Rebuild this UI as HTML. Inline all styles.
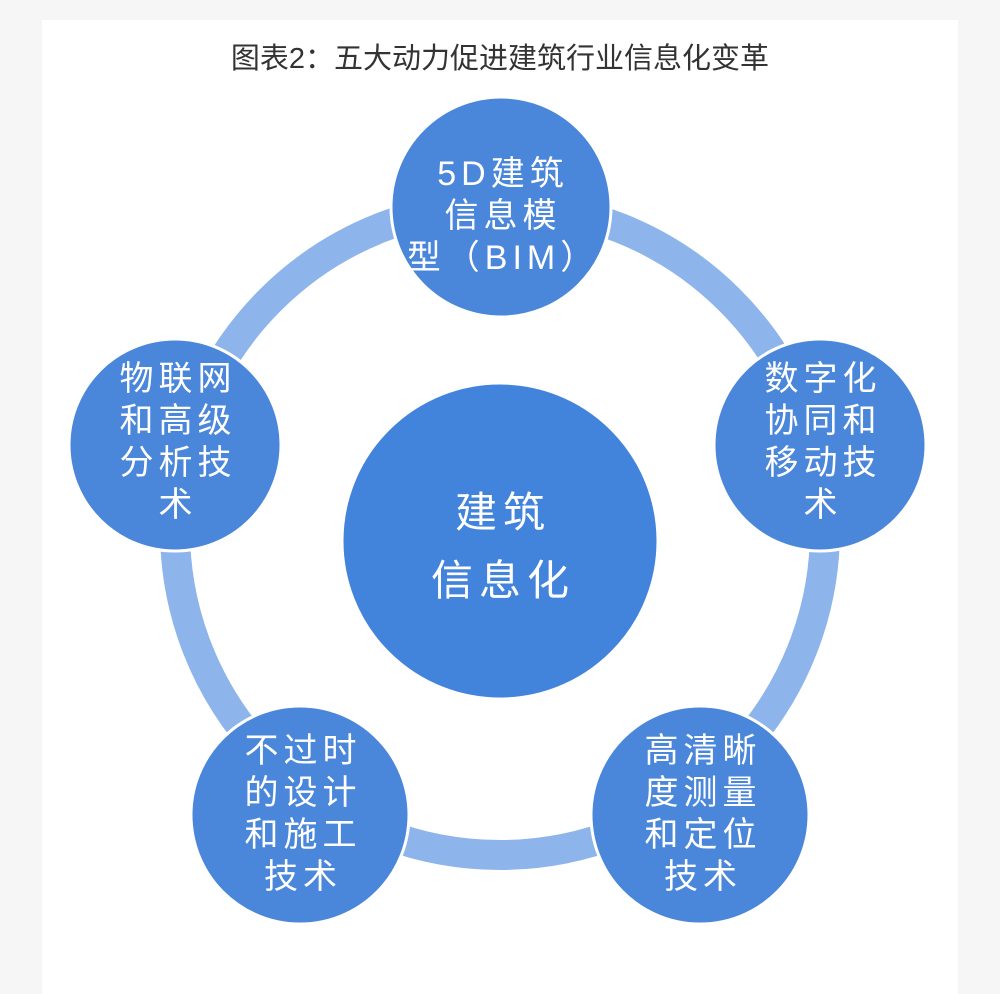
<!DOCTYPE html>
<html><head><meta charset="utf-8"><style>
html,body{margin:0;padding:0;background:#f6f6f6;}
svg{display:block}
text{font-family:"Liberation Sans","Noto Sans CJK SC",sans-serif;}
</style></head><body>
<svg width="1000" height="994" viewBox="0 0 1000 994" xmlns="http://www.w3.org/2000/svg">
<rect x="0" y="0" width="1000" height="994" fill="#f6f6f6"/>
<rect x="42" y="20" width="916" height="974" fill="#ffffff"/>
<text x="500" y="68" font-size="29" fill="#333" text-anchor="middle">图表2：五大动力促进建筑行业信息化变革</text>
<circle cx="500" cy="530" r="325" fill="none" stroke="#8db5ec" stroke-width="30"/>
<g fill="#4a86d9" stroke="#ffffff" stroke-width="3">
<circle cx="501" cy="207" r="110"/>
<circle cx="175" cy="445" r="106"/>
<circle cx="820" cy="445" r="106"/>
<circle cx="300" cy="815" r="109"/>
<circle cx="700" cy="815" r="109"/>
<circle cx="500" cy="541" r="158" fill="#4283dc"/>
</g>
<g fill="#ffffff" font-size="34" text-anchor="middle" letter-spacing="5">
<text x="503" y="185">5D建筑</text>
<text x="503" y="227">信息模</text>
<text x="503" y="269">型（BIM）</text>
<text x="178" y="390">物联网</text>
<text x="178" y="432">和高级</text>
<text x="178" y="474">分析技</text>
<text x="178" y="516">术</text>
<text x="823" y="390">数字化</text>
<text x="823" y="432">协同和</text>
<text x="823" y="474">移动技</text>
<text x="823" y="516">术</text>
<text x="303" y="762">不过时</text>
<text x="303" y="804">的设计</text>
<text x="303" y="846">和施工</text>
<text x="303" y="888">技术</text>
<text x="703" y="762">高清晰</text>
<text x="703" y="804">度测量</text>
<text x="703" y="846">和定位</text>
<text x="703" y="888">技术</text>
<text x="503" y="527" font-size="42" letter-spacing="6">建筑</text>
<text x="503" y="595" font-size="42" letter-spacing="6">信息化</text>
</g>
</svg>
</body></html>
